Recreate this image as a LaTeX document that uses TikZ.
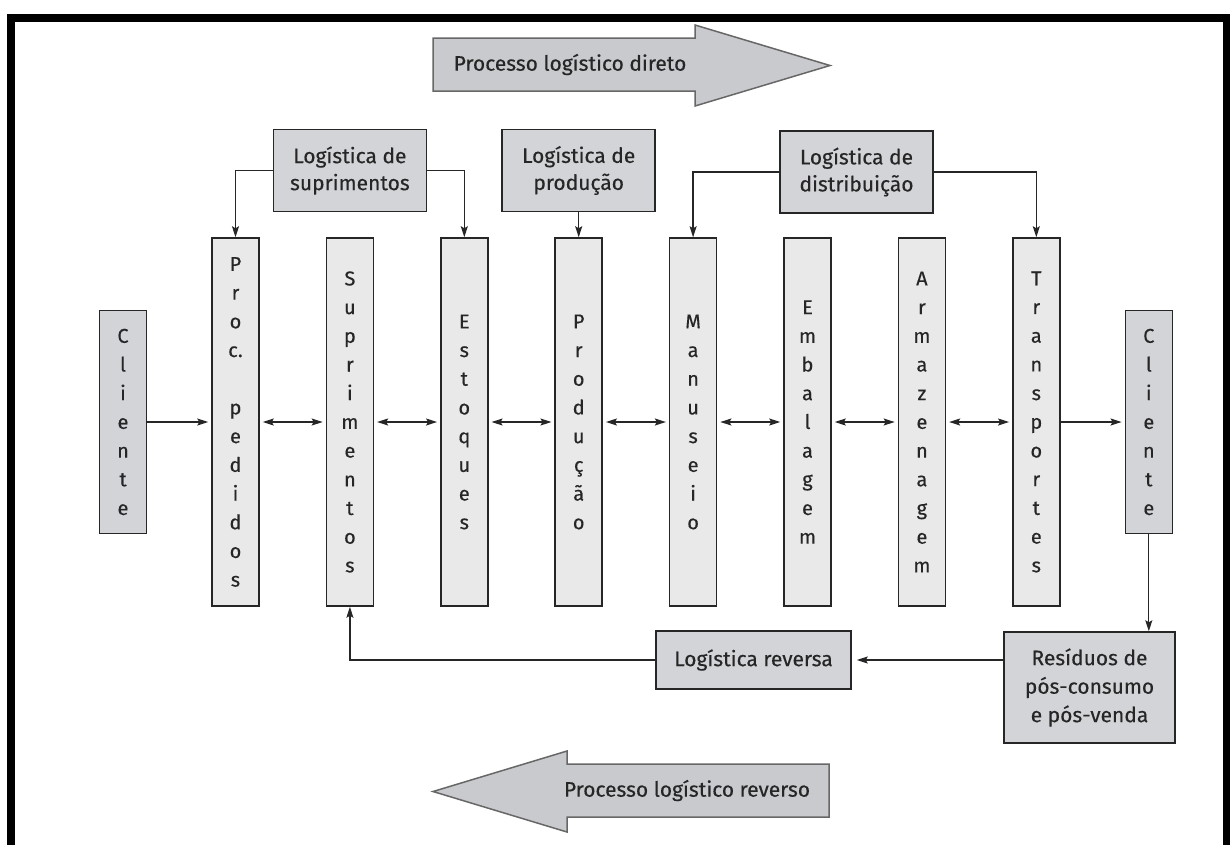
\documentclass[tikz,border=0pt]{standalone}
\usepackage{fontspec}
\setmainfont{Fira Sans}[FakeBold=0.35]
\usetikzlibrary{positioning,arrows.meta}

\definecolor{boxgray}{RGB}{211,212,215}
\definecolor{colgray}{RGB}{233,233,233}
\definecolor{bigarrow}{RGB}{201,202,205}
\definecolor{inkgray}{RGB}{38,38,38}

\begin{document}
\begin{tikzpicture}[
    x=1pt, y=-1pt,
    font=\fontsize{21}{27}\selectfont, text=inkgray,
    column/.style={draw=inkgray, line width=1.5pt, fill=colgray, minimum width=47pt, minimum height=368pt, inner sep=0pt, align=center, font=\fontsize{20}{28.7}\selectfont},
    client/.style={column, fill=boxgray, minimum height=223pt},
    head/.style={draw=inkgray, line width=1.5pt, fill=boxgray, minimum width=153pt, minimum height=82pt, inner sep=0pt, align=center},
    arrow/.style={-{Stealth[length=11pt, width=7pt, inset=2pt]}, line width=1.3pt, draw=inkgray},
    both/.style={arrow, {Stealth[length=11pt, width=7pt, inset=2pt]}-{Stealth[length=11pt, width=7pt, inset=2pt]}, shorten <=3pt, shorten >=3pt}
]
\useasboundingbox (0,0) rectangle (1230,844);
% frame
\draw[line width=8pt] (11,900) -- (11,17.5) -- (1227,17.5) -- (1227,900);

% big process arrows
\draw[fill=bigarrow, draw=inkgray!70, line width=1.5pt] (433,38) -- (695,38) -- (695,25) -- (830,65.5) -- (695,106) -- (695,91) -- (433,91) -- cycle;
\node (direto) at (570,64.5) {Processo logístico direto};
\draw[fill=bigarrow, draw=inkgray!70, line width=1.5pt] (829,764) -- (567,764) -- (567,751) -- (433,791.5) -- (567,832) -- (567,817) -- (829,817) -- cycle;
\node (reverso) at (687,790.5) {Processo logístico reverso};

% activity columns
\node[column] (proc) at (235.5,422) {P\\r\\o\\c.\\[28.7pt]p\\e\\d\\i\\d\\o\\s};
\node[column, right=65.9pt of proc] (supr) {S\\u\\p\\r\\i\\m\\e\\n\\t\\o\\s};
\node[column, right=65.9pt of supr] (estoq) {E\\s\\t\\o\\q\\u\\e\\s};
\node[column, right=65.9pt of estoq] (prod) {P\\r\\o\\d\\u\\ç\\ã\\o};
\node[column, right=65.9pt of prod] (manus) {M\\a\\n\\u\\s\\e\\i\\o};
\node[column, right=65.9pt of manus] (embal) {E\\m\\b\\a\\l\\a\\g\\e\\m};
\node[column, right=65.9pt of embal] (armaz) {A\\r\\m\\a\\z\\e\\n\\a\\g\\e\\m};
\node[column, right=65.9pt of armaz] (transp) {T\\r\\a\\n\\s\\p\\o\\r\\t\\e\\s};
\node[client, left=64pt of proc] (cliA) {C\\l\\i\\e\\n\\t\\e};
\node[client, right=64pt of transp] (cliB) {C\\l\\i\\e\\n\\t\\e};

% logistics areas
\node[head, above=25pt of supr] (lsup) {Logística de\\suprimentos};
\node[head, above=25pt of prod] (lprod) {Logística de\\produção};
\node[head] (ldist) at (856.5,172) {Logística de\\distribuição};

% reverse flow
\node[head, minimum width=171pt, minimum height=111pt, align=center, font=\fontsize{21}{28.5}\selectfont] (resid) at (1089.5,687.5) {Resíduos de\\pós-consumo\\e pós-venda};
\node[head, minimum width=195pt, minimum height=58pt] (lrev) at (753.5,660) {Logística reversa};

% connectors
\draw[arrow] (lsup.west) -| (proc.north);
\draw[arrow] (lsup.east) -| (estoq.north);
\draw[arrow] (lprod.south) -- (prod.north);
\draw[arrow] (ldist.west) -| (manus.north);
\draw[arrow] (ldist.east) -| (transp.north);

\draw[arrow, shorten >=3pt] (cliA) -- (proc);
\draw[both] (proc) -- (supr);
\draw[both] (supr) -- (estoq);
\draw[both] (estoq) -- (prod);
\draw[both] (prod) -- (manus);
\draw[both] (manus) -- (embal);
\draw[both] (embal) -- (armaz);
\draw[both] (armaz) -- (transp);
\draw[arrow, shorten >=3pt] (transp) -- (cliB);

\draw[arrow] (cliB.south) -- (cliB.south |- resid.north);
\draw[arrow, shorten >=5pt] (resid.west |- lrev.east) -- (lrev.east);
\draw[arrow] (lrev.west) -| (supr.south);
\end{tikzpicture}
\end{document}
